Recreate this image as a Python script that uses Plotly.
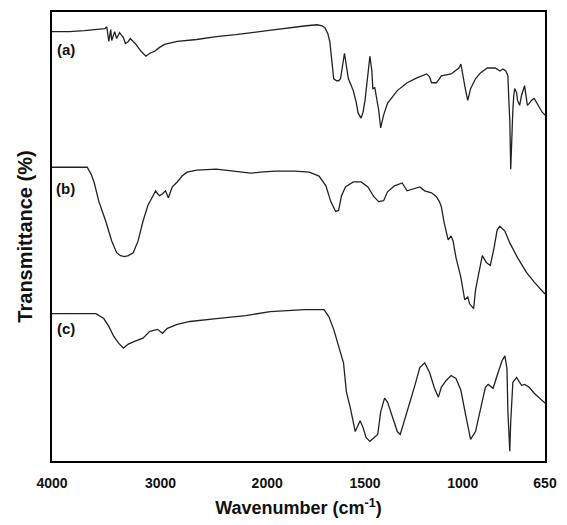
import numpy as np
import plotly.graph_objects as go

# ---------------- data ----------------
wn_a = [4000, 3838, 3703, 3568, 3514, 3495, 3477, 3459, 3450, 3423, 3405, 3378, 3342, 3324, 3297,
        3279, 3234, 3180, 3135, 3099, 3054, 3009, 2963, 2844, 2661, 2477, 2294, 2000, 1860, 1800,
        1745, 1720, 1705, 1690, 1680, 1670, 1660, 1645, 1635, 1625, 1615, 1605, 1595, 1585, 1570,
        1560, 1545, 1535, 1520, 1510, 1500, 1485, 1475, 1465, 1460, 1450, 1445, 1430, 1420, 1405,
        1385, 1360, 1335, 1285, 1235, 1185, 1170, 1160, 1135, 1120, 1110, 1060, 1020, 1010, 1000,
        988, 979, 967, 946, 925, 896, 862, 842, 829, 817, 808, 804, 800, 796, 792,
        787, 783, 779, 771, 767, 758, 750, 737, 729, 725, 717, 708, 696, 679, 662, 650]
tr_a = [437, 437, 438, 439, 440, 442, 427, 439, 428, 437, 430, 436, 431, 425, 427,
        430, 425, 417, 412, 415, 417, 421, 424, 427, 429, 432, 434, 438, 442, 443,
        444, 443, 441, 435, 427, 407, 389, 387, 387, 389, 405, 415, 402, 389, 382,
        377, 365, 354, 349, 355, 367, 395, 412, 397, 379, 380, 375, 357, 339, 352,
        364, 371, 377, 385, 390, 394, 391, 385, 385, 389, 392, 394, 400, 404, 392,
        377, 367, 379, 389, 395, 400, 400, 397, 399, 397, 392, 367, 347, 297, 332,
        357, 372, 379, 375, 367, 362, 372, 382, 369, 362, 364, 367, 369, 362, 355, 352]

wn_b = [4000, 3838, 3676, 3640, 3613, 3568, 3505, 3450, 3405, 3369, 3333, 3297, 3252, 3207, 3162,
        3117, 3072, 3045, 3027, 3009, 2982, 2954, 2927, 2890, 2844, 2798, 2752, 2661, 2477, 2294,
        2156, 2064, 1960, 1860, 1785, 1735, 1700, 1675, 1650, 1635, 1620, 1600, 1560, 1520, 1485,
        1455, 1430, 1405, 1385, 1350, 1310, 1285, 1250, 1220, 1195, 1160, 1135, 1120, 1110, 1095,
        1075, 1060, 1050, 1035, 1010, 992, 979, 971, 954, 946, 933, 917, 900, 883, 867,
        854, 842, 821, 800, 767, 729, 696, 650]
tr_b = [299, 299, 299, 292, 284, 264, 244, 224, 212, 209, 208, 209, 212, 224, 244,
        260, 270, 275, 272, 270, 272, 275, 268, 279, 284, 290, 294, 296, 297, 295,
        293, 294, 295, 295, 294, 290, 280, 264, 254, 255, 270, 279, 284, 284, 279,
        269, 264, 265, 274, 280, 283, 275, 277, 279, 275, 273, 269, 264, 259, 242,
        225, 229, 224, 207, 187, 164, 167, 160, 155, 174, 190, 209, 202, 199, 217,
        235, 239, 234, 222, 207, 192, 182, 170]

wn_c = [4000, 3793, 3595, 3523, 3477, 3432, 3387, 3342, 3297, 3234, 3162, 3099, 3027, 2982, 2936,
        2844, 2725, 2477, 2202, 1985, 1860, 1810, 1710, 1685, 1660, 1635, 1610, 1595, 1575, 1550,
        1535, 1525, 1510, 1495, 1475, 1450, 1435, 1420, 1400, 1385, 1360, 1335, 1320, 1300, 1275,
        1245, 1220, 1195, 1170, 1145, 1125, 1110, 1085, 1060, 1035, 1010, 988, 967, 946, 925,
        904, 892, 871, 854, 833, 821, 812, 808, 800, 796, 787, 771, 750, 737, 717,
        696, 675, 650]
tr_c = [150, 150, 150, 145, 137, 127, 120, 115, 119, 122, 125, 132, 134, 130, 135,
        139, 142, 145, 148, 152, 153, 154, 154, 147, 134, 117, 100, 70, 54, 30,
        37, 41, 34, 24, 20, 25, 27, 50, 64, 60, 45, 30, 27, 40, 57,
        77, 95, 100, 90, 74, 65, 75, 82, 87, 84, 72, 47, 22, 30, 54,
        75, 78, 74, 87, 102, 107, 94, 50, 10, 40, 80, 85, 77, 78, 75,
        69, 64, 59]

series_labels = ["(a)", "(b)", "(c)"]
tick_values = [4000, 3000, 2000, 1500, 1000, 650]
tick_labels = ["4000", "3000", "2000", "1500", "1000", "650"]

# ------------- broken wavenumber scale (expanded below 2000 cm-1) -------------
SCALE_WN = [650, 1000, 1500, 2000, 3000, 4000]
SCALE_POS = [0, 84, 184, 284, 393, 504]


def axis_pos(w):
    return np.interp(np.asarray(w, dtype=float), SCALE_WN, SCALE_POS)


fig = go.Figure()
for wn, tr in [(wn_a, tr_a), (wn_b, tr_b), (wn_c, tr_c)]:
    fig.add_trace(go.Scatter(x=axis_pos(wn), y=tr, mode="lines",
                             line=dict(color="#222222", width=1.3),
                             showlegend=False, hoverinfo="skip"))

label_y = [0.916, 0.608, 0.295]
for lab, yy in zip(series_labels, label_y):
    fig.add_annotation(x=0.028, y=yy, xref="paper", yref="paper", text=lab,
                       showarrow=False, xanchor="center", yanchor="middle",
                       font=dict(family="Liberation Sans", size=15, color="#111", weight="bold"))

fig.update_layout(
    width=567, height=525,
    margin=dict(l=52, r=11, t=10, b=58),
    paper_bgcolor="white", plot_bgcolor="white",
    font=dict(family="Liberation Sans", color="#111"),
    xaxis=dict(range=[504, 0], tickmode="array",
               tickvals=list(axis_pos(tick_values)), ticktext=tick_labels,
               ticks="", showgrid=False, zeroline=False,
               showline=True, linecolor="black", linewidth=1.5, mirror=True,
               tickfont=dict(size=14, weight="bold", color="#111"),
               ticklabelstandoff=8,
               title=dict(text="Wavenumber (cm<sup>-1</sup>)", standoff=12,
                          font=dict(size=18, weight="bold", color="#111"))),
    yaxis=dict(range=[0, 457], showticklabels=False, ticks="", showgrid=False, zeroline=False,
               showline=True, linecolor="black", linewidth=1.5, mirror=True,
               title=dict(text="Transmittance (%)", standoff=12,
                          font=dict(size=20, weight="bold", color="#111"))),
)

fig.write_html("out.html")
